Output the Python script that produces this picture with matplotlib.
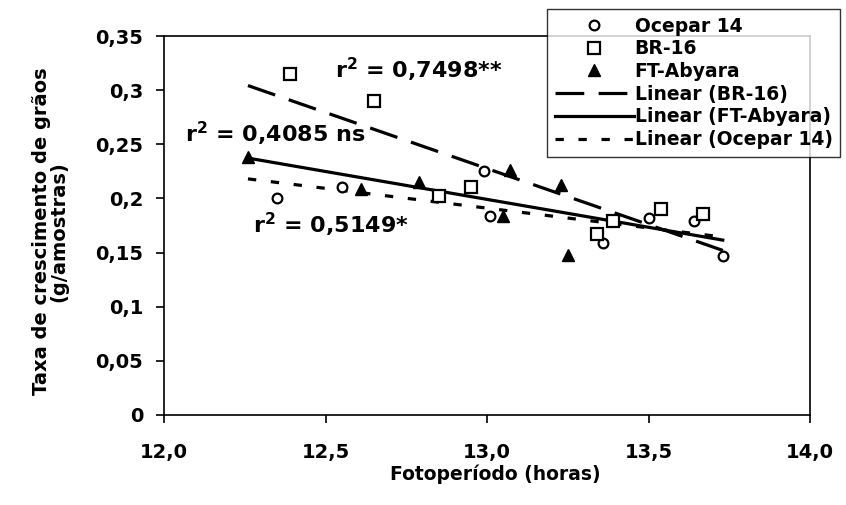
import numpy as np
import matplotlib
matplotlib.use("Agg")
import matplotlib.pyplot as plt
from matplotlib.lines import Line2D

# values
ocepar_x = [12.35, 12.55, 12.99, 13.01, 13.36, 13.50, 13.64, 13.73]
ocepar_y = [0.200, 0.211, 0.225, 0.184, 0.159, 0.182, 0.179, 0.147]
br16_x = [12.39, 12.65, 12.85, 12.95, 13.34, 13.39, 13.54, 13.67]
br16_y = [0.315, 0.290, 0.202, 0.211, 0.167, 0.179, 0.190, 0.186]
abyara_x = [12.26, 12.61, 12.79, 13.05, 13.07, 13.23, 13.25]
abyara_y = [0.238, 0.209, 0.215, 0.184, 0.226, 0.212, 0.148]

x_ticks = [12.0, 12.5, 13.0, 13.5, 14.0]
x_tick_labels = ["12,0", "12,5", "13,0", "13,5", "14,0"]
y_ticks = [0, 0.05, 0.1, 0.15, 0.2, 0.25, 0.3, 0.35]
y_tick_labels = ["0", "0,05", "0,1", "0,15", "0,2", "0,25", "0,3", "0,35"]

r2_labels = ["r$^2$ = 0,7498**", "r$^2$ = 0,4085 ns", "r$^2$ = 0,5149*"]
r2_pos = [(12.53, 0.311), (12.065, 0.252), (12.276, 0.168)]

plt.rcParams["font.family"] = ["DejaVu Sans"]
plt.rcParams["font.weight"] = "bold"
plt.rcParams["mathtext.fontset"] = "dejavusans"
plt.rcParams["mathtext.default"] = "bf"

fig = plt.figure(figsize=(8.46, 5.05), dpi=100)
ax = fig.add_axes([164 / 846, 90 / 505, 646 / 846, 379 / 505])

lw = 2.3
br_dash = (0, (9, 4.5))
oc_dash = (0, (2.6, 4.6))

# linear trend lines over the full range of x
all_x = ocepar_x + br16_x + abyara_x
xx = np.array([min(all_x), max(all_x)])
series = [
    (br16_x, br16_y, br_dash),
    (abyara_x, abyara_y, "-"),
    (ocepar_x, ocepar_y, oc_dash),
]
for sx, sy, ls in series:
    k, b = np.polyfit(sx, sy, 1)
    ax.plot(xx, k * xx + b, color="black", lw=lw, linestyle=ls, zorder=2)

ax.plot(ocepar_x, ocepar_y, "o", ms=7, mfc="white", mec="black", mew=1.6, zorder=3)
ax.plot(br16_x, br16_y, "s", ms=8, mfc="white", mec="black", mew=1.6, zorder=3)
ax.plot(abyara_x, abyara_y, "^", ms=9, color="black", zorder=3)

for txt, (tx, ty) in zip(r2_labels, r2_pos):
    ax.text(tx, ty, txt, fontsize=16, fontweight="bold", va="baseline", ha="left")

ax.set_xlim(12.0, 14.0)
ax.set_ylim(0, 0.35)
ax.set_xticks(x_ticks)
ax.set_xticklabels(x_tick_labels)
ax.set_yticks(y_ticks)
ax.set_yticklabels(y_tick_labels)
ax.tick_params(axis="both", labelsize=14, direction="out", length=6, width=1.2, colors="black")
ax.tick_params(axis="x", pad=14)
ax.tick_params(axis="y", pad=9)
for s in ax.spines.values():
    s.set_linewidth(1.2)

ax.set_xlabel("Fotoperíodo (horas)", fontsize=13.5, fontweight="bold")
ax.xaxis.set_label_coords(0.513, -0.13)
ax.set_ylabel("Taxa de crescimento de grãos\n(g/amostras)", fontsize=14, fontweight="bold",
              linespacing=0.9)
ax.yaxis.set_label_coords(-0.148, 0.485)

handles = [
    Line2D([], [], marker="o", ls="none", ms=7, mfc="white", mec="black", mew=1.6),
    Line2D([], [], marker="s", ls="none", ms=8, mfc="white", mec="black", mew=1.6),
    Line2D([], [], marker="^", ls="none", ms=9, color="black"),
    Line2D([], [], color="black", lw=lw, linestyle=br_dash),
    Line2D([], [], color="black", lw=lw, linestyle="-"),
    Line2D([], [], color="black", lw=lw, linestyle=oc_dash),
]
labels = ["Ocepar 14", "BR-16", "FT-Abyara", "Linear (BR-16)", "Linear (FT-Abyara)", "Linear (Ocepar 14)"]
leg = fig.legend(handles, labels, loc="upper right", bbox_to_anchor=(840 / 846, 496 / 505),
                 bbox_transform=fig.transFigure, fontsize=13.5, frameon=True, fancybox=False,
                 edgecolor="black", handlelength=4.2, handletextpad=0.05, labelspacing=0.2,
                 borderpad=0.4, borderaxespad=0)
leg.get_frame().set_linewidth(1.0)

fig.savefig("out.png", dpi=100)
